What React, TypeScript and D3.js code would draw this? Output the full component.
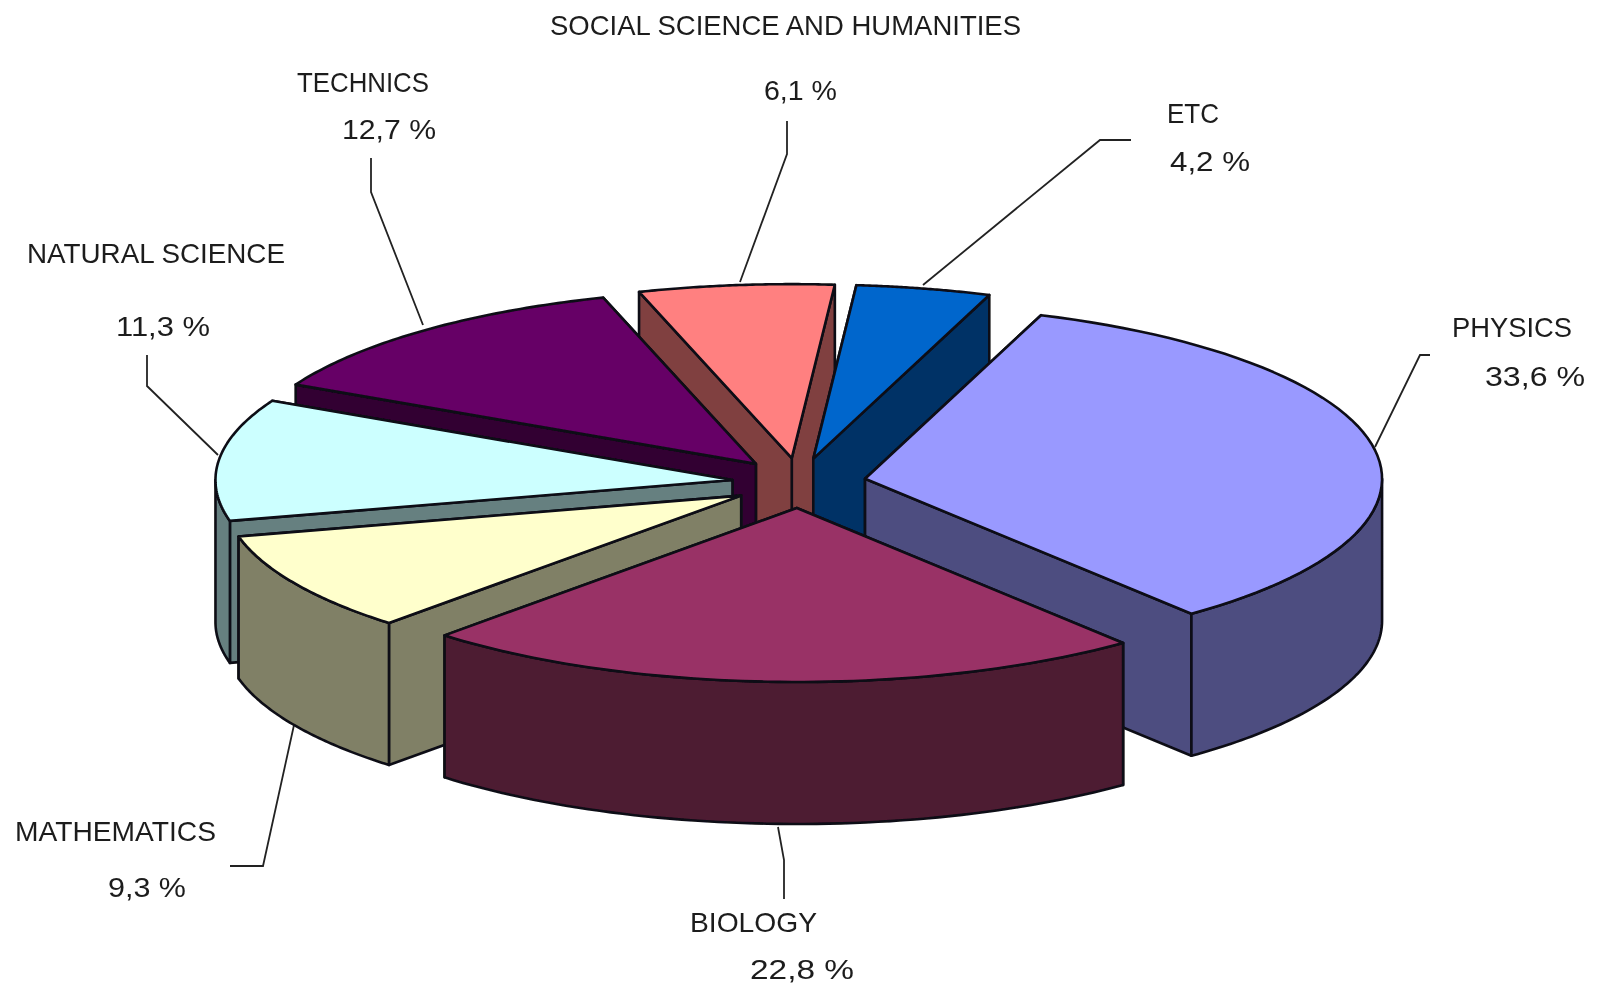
import React from 'react';
import * as d3 from 'd3';

const categories = ['PHYSICS', 'BIOLOGY', 'MATHEMATICS', 'NATURAL SCIENCE', 'TECHNICS', 'SOCIAL SCIENCE AND HUMANITIES', 'ETC'];
const shares = [33.6, 22.8, 9.3, 11.3, 12.7, 6.1, 4.2];
const shareLabels = ['33,6 %', '22,8 %', '9,3 %', '11,3 %', '12,7 %', '6,1 %', '4,2 %'];
const topColors = ['#9999ff', '#993366', '#ffffcc', '#ccffff', '#660066', '#ff8080', '#0066cc'];
const wallColors = ['#4d4d80', '#4d1a33', '#808066', '#668080', '#330033', '#804040', '#003366'];

// back to front, the slices overlap each other
const drawOrder = [5, 6, 4, 0, 3, 2, 1];

const width = 1604;
const height = 984;
const cx = 799;
const cy = 483;
const rx = 517;
const ry = 174;
const depth = 142;
const explodeX = 67;
const explodeY = 25;
const startDeg = 19.9;

// label boxes: left x, right x, baseline of name, then the same for the percentage
const labelLayout = [
  { name: [1452, 1572, 337], pct: [1485, 1585, 386] },
  { name: [690, 817, 932], pct: [750, 854, 979] },
  { name: [15, 216, 841], pct: [108, 186, 897] },
  { name: [27, 285, 263], pct: [116, 210, 336] },
  { name: [297, 429, 92], pct: [342, 436, 139] },
  { name: [550, 1021, 35], pct: [764, 837, 100] },
  { name: [1167, 1219, 123], pct: [1170, 1250, 171] },
];

const leaderLines: [number, number][][] = [
  [[1375, 447], [1420, 355], [1430, 355]],
  [[778, 827], [784, 860], [784, 899]],
  [[230, 866], [263, 866], [294, 725]],
  [[147, 355], [147, 386], [218, 455]],
  [[371, 158], [371, 192], [423, 325]],
  [[787, 121], [787, 154], [740, 282]],
  [[1131, 140], [1100, 140], [923, 285]],
];

const pie = d3.pie<number>().sort(null)
  .startAngle((startDeg * Math.PI) / 180)
  .endAngle((startDeg * Math.PI) / 180 + 2 * Math.PI);

const line = d3.line();
const closed = (pts: [number, number][]) => line(pts) + 'Z';

const slices = pie(shares).map((d, i) => {
  const mid = (d.startAngle + d.endAngle) / 2;
  const ax = cx + explodeX * Math.sin(mid);
  const ay = cy - explodeY * Math.cos(mid);
  const at = (a: number, drop = 0): [number, number] => [
    ax + rx * Math.sin(a),
    ay - ry * Math.cos(a) + drop,
  ];
  const arc = (a0: number, a1: number, drop = 0) =>
    d3.range(0, 61).map(k => at(a0 + ((a1 - a0) * k) / 60, drop));
  const apex: [number, number] = [ax, ay];
  const apexLow: [number, number] = [ax, ay + depth];

  const top = closed([apex, ...arc(d.startAngle, d.endAngle)]);
  const radial = [d.startAngle, d.endAngle]
    .sort((a, b) => at(a)[1] - at(b)[1])
    .map(a => closed([apex, at(a), at(a, depth), apexLow]));

  // only the near half of the rim can be seen
  const lo = Math.max(d.startAngle, Math.PI / 2);
  const hi = Math.min(d.endAngle, (3 * Math.PI) / 2);
  const rim = lo < hi ? closed([...arc(lo, hi), ...arc(hi, lo, depth)]) : null;

  return { i, top, radial, rim };
});

const App: React.FC = () => {
  const textProps = {
    fontFamily: '"Liberation Sans", Arial, sans-serif',
    fontSize: 28,
    fill: '#1c1c1c',
    lengthAdjust: 'spacingAndGlyphs' as const,
  };
  return (
    <svg
      width={width}
      height={height}
      viewBox={`0 0 ${width} ${height}`}
      style={{ position: 'fixed', left: 0, top: 0, background: '#fff' }}
    >
      <defs>
        <filter id="soft" x="0" y="0" width="100%" height="100%">
          <feGaussianBlur stdDeviation={0.5} />
        </filter>
      </defs>
      <g filter="url(#soft)">
        {leaderLines.map((pts, i) => (
          <path key={i} d={line(pts) || ''} fill="none" stroke="#222" strokeWidth={1.8} />
        ))}
        {drawOrder.map(idx => {
          const s = slices[idx];
          const edge = { stroke: '#0c0c14', strokeWidth: 2.6, strokeLinejoin: 'round' as const };
          return (
            <g key={categories[idx]}>
              {s.radial.map((d, k) => (
                <path key={k} d={d} fill={wallColors[idx]} {...edge} />
              ))}
              {s.rim && <path d={s.rim} fill={wallColors[idx]} {...edge} />}
              <path d={s.top} fill={topColors[idx]} {...edge} />
            </g>
          );
        })}
        {categories.map((c, i) => {
          const { name, pct } = labelLayout[i];
          return (
            <g key={c}>
              <text x={name[0]} y={name[2]} textLength={name[1] - name[0]} {...textProps}>{c}</text>
              <text x={pct[0]} y={pct[2]} textLength={pct[1] - pct[0]} {...textProps}>{shareLabels[i]}</text>
            </g>
          );
        })}
      </g>
    </svg>
  );
};

export default App;
